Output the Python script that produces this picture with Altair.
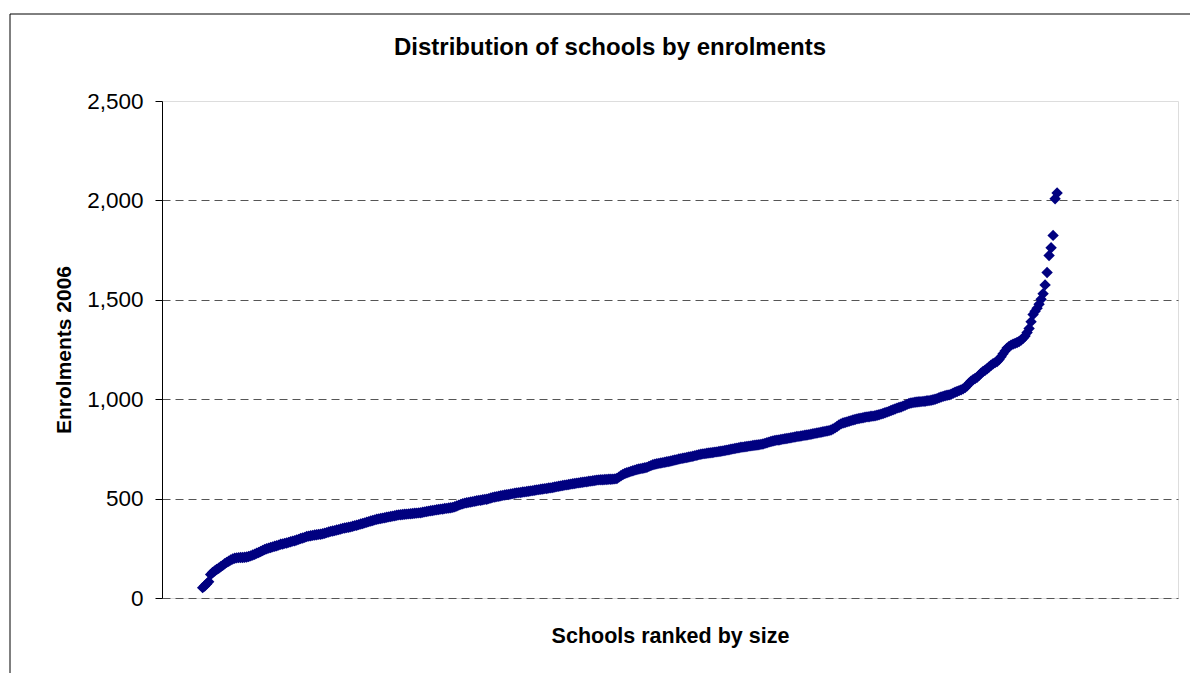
import altair as alt
import pandas as pd

# Enrolments (2006) of every school, sorted from smallest to largest
enrolments = [
    52, 60, 71, 82, 118, 128, 136, 143, 150, 157,
    164, 172, 179, 185, 191, 196, 200, 202, 203, 204,
    204, 205, 206, 209, 212, 216, 220, 225, 229, 234,
    239, 244, 248, 251, 254, 257, 260, 263, 266, 270,
    272, 275, 277, 280, 283, 286, 288, 292, 295, 299,
    302, 305, 309, 311, 313, 315, 317, 318, 320, 321,
    323, 326, 329, 332, 335, 337, 339, 342, 344, 347,
    350, 352, 354, 356, 358, 361, 364, 366, 369, 372,
    375, 378, 381, 384, 387, 390, 393, 396, 398, 400,
    402, 404, 406, 408, 410, 412, 414, 416, 418, 419,
    420, 421, 422, 423, 424, 425, 426, 427, 428, 429,
    431, 433, 435, 437, 439, 440, 442, 444, 445, 447,
    448, 450, 451, 453, 454, 456, 459, 463, 467, 471,
    474, 477, 479, 481, 483, 485, 487, 489, 491, 492,
    494, 496, 497, 500, 503, 506, 508, 510, 512, 514,
    516, 518, 520, 521, 523, 525, 527, 529, 530, 531,
    533, 534, 536, 537, 539, 540, 542, 544, 545, 547,
    548, 550, 551, 553, 554, 556, 558, 560, 562, 564,
    566, 568, 569, 571, 573, 575, 576, 578, 579, 581,
    582, 584, 585, 587, 588, 590, 591, 593, 594, 595,
    595, 596, 596, 597, 597, 598, 599, 601, 608, 615,
    621, 626, 630, 633, 637, 640, 643, 646, 649, 651,
    653, 655, 657, 662, 666, 670, 673, 675, 677, 679,
    681, 683, 685, 687, 689, 692, 694, 696, 699, 701,
    703, 705, 707, 709, 711, 713, 716, 718, 721, 723,
    725, 726, 728, 729, 731, 732, 734, 735, 737, 738,
    740, 742, 744, 746, 748, 750, 752, 754, 756, 758,
    759, 761, 762, 764, 765, 767, 768, 770, 771, 773,
    775, 778, 781, 784, 787, 790, 792, 794, 795, 797,
    799, 801, 802, 804, 806, 808, 810, 812, 813, 815,
    817, 819, 820, 822, 824, 826, 828, 830, 832, 834,
    836, 838, 840, 842, 845, 850, 856, 863, 870, 876,
    880, 883, 886, 889, 892, 895, 898, 901, 903, 905,
    907, 909, 911, 912, 914, 915, 917, 919, 922, 925,
    928, 932, 935, 939, 943, 947, 951, 955, 958, 961,
    965, 969, 974, 978, 981, 983, 985, 986, 987, 988,
    989, 990, 992, 993, 995, 997, 1000, 1003, 1007, 1011,
    1014, 1017, 1020, 1022, 1025, 1030, 1035, 1039, 1043, 1047,
    1052, 1058, 1068, 1080, 1090, 1098, 1104, 1110, 1120, 1131,
    1139, 1146, 1153, 1162, 1171, 1178, 1184, 1190, 1200, 1214,
    1228, 1243, 1257, 1265, 1272, 1277, 1281, 1285, 1290, 1297,
    1306, 1318, 1335, 1356, 1390, 1426, 1442, 1458, 1478, 1503,
    1531, 1575, 1637, 1723, 1762, 1824, 2008, 2037,
]
ranks = list(range(1, len(enrolments) + 1))
y_ticks = [0, 500, 1000, 1500, 2000, 2500]
chart_title = "Distribution of schools by enrolments"

df = pd.DataFrame({"rank": ranks, "enrolments": enrolments})

FONT = "Liberation Sans"
W, H = 1016, 497

# rank axis: first school sits ~4% in from the left, last one ~88% across
n = len(enrolments)
first_frac, last_frac = 0.040, 0.881
span = (n - 1) / (last_frac - first_frac)
lo = 1 - first_frac * span
hi = lo + span

# outer chart frame
frame = alt.Chart(pd.DataFrame({"k": [0]})).mark_rect(
    fill="transparent", stroke="black", strokeWidth=1
).encode(
    x=alt.value(-152), x2=alt.value(1200),
    y=alt.value(-87), y2=alt.value(700),
)

# chart heading, centred on the outer frame
heading = alt.Chart(pd.DataFrame({"t": [chart_title]})).mark_text(
    font=FONT, fontSize=24, fontWeight="bold", color="black",
    align="center", baseline="alphabetic",
).encode(
    text="t:N", x=alt.value(448), y=alt.value(-46),
)

points = alt.Chart(df).mark_point(
    shape="diamond", filled=True, size=130, color="#000080", opacity=1
).encode(
    x=alt.X(
        "rank:Q",
        scale=alt.Scale(domain=[lo, hi], nice=False, zero=False),
        axis=alt.Axis(
            title="Schools ranked by size",
            labels=False, ticks=False, domain=False, grid=False,
            titleFont=FONT, titleFontSize=21.5, titleFontWeight="bold",
            titleColor="black", titlePadding=27,
        ),
    ),
    y=alt.Y(
        "enrolments:Q",
        scale=alt.Scale(domain=[0, 2500], nice=False),
        axis=alt.Axis(
            title="Enrolments 2006",
            values=y_ticks, format=",.0f",
            labelFont=FONT, labelFontSize=22.5, labelColor="black",
            labelPadding=12,
            tickSize=7, tickColor="black", tickWidth=1,
            domainColor="black", domainWidth=1,
            grid=True, gridColor="#555555", gridWidth=1, gridDash=[8, 5],
            gridOpacity={"condition": {"test": "datum.value == 2500", "value": 0}, "value": 1},
            titleFont=FONT, titleFontSize=21, titleFontWeight="bold",
            titleColor="black", titlePadding=12,
        ),
    ),
)

chart = alt.layer(frame, heading, points).properties(
    width=W,
    height=H,
    autosize=alt.AutoSizeParams(type="none"),
    padding={"left": 162, "top": 101, "right": 12, "bottom": 75},
).configure_view(
    stroke="#8c8c8c", strokeWidth=1.5
).configure(background="white")

chart.save("out.html", embed_options={"renderer": "svg", "actions": False})
